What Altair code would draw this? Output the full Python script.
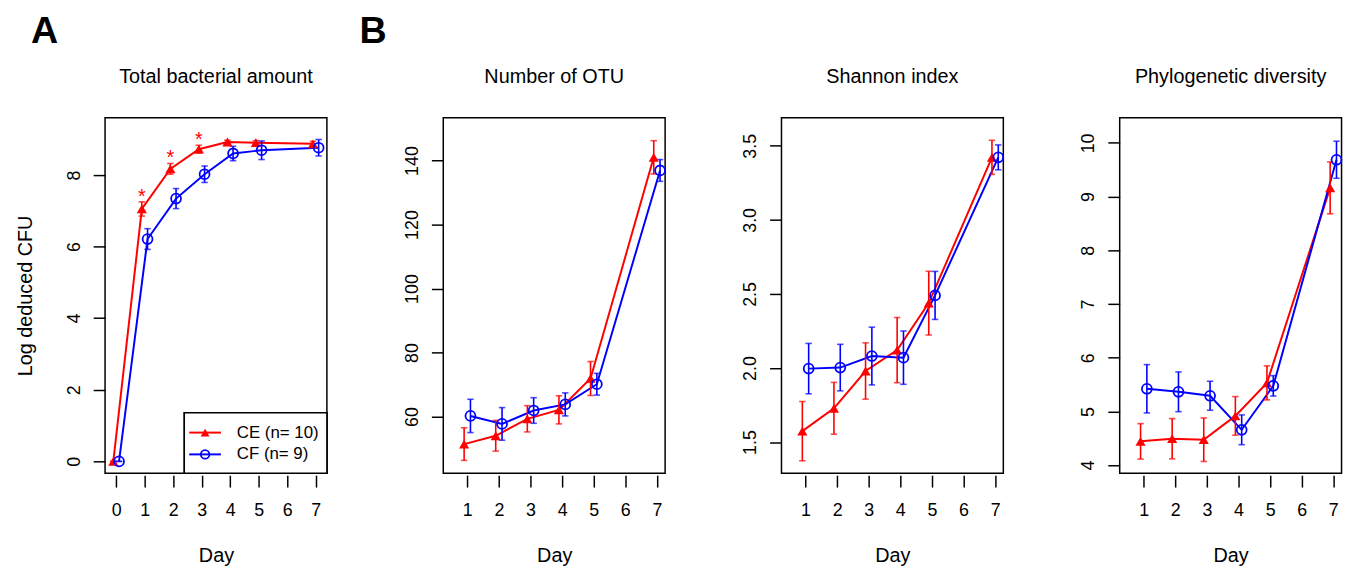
import altair as alt
import pandas as pd

FONT = "Liberation Sans"

groups = ["CE", "CF"]
group_colors = ["#FF0000", "#0000FF"]
legend_labels = ["CE (n= 10)", "CF (n= 9)"]
panel_titles = ["Total bacterial amount", "Number of OTU", "Shannon index", "Phylogenetic diversity"]
panel_letters = ["A", "B"]

# Panel A: total bacterial amount (log deduced CFU)
days_total = [0, 1, 2, 3, 4, 5, 7]
ce_total = [0.0, 7.05, 8.17, 8.72, 8.92, 8.90, 8.87]
ce_total_se = [0.0, 0.20, 0.15, 0.11, 0.05, 0.06, 0.07]
cf_total = [0.0, 6.21, 7.34, 8.02, 8.60, 8.69, 8.76]
cf_total_se = [0.0, 0.29, 0.28, 0.23, 0.20, 0.26, 0.23]
significant_days = [1, 2, 3]

# Panel B: diversity measures
days = [1, 2, 3, 4, 5, 7]
ce_otu = [51.4, 54.0, 59.3, 62.1, 71.9, 141.0]
ce_otu_se = [5.1, 4.8, 4.1, 4.4, 5.3, 5.2]
cf_otu = [60.2, 57.7, 61.9, 63.8, 70.1, 136.9]
cf_otu_se = [5.2, 5.1, 4.0, 3.6, 3.4, 3.4]

ce_shannon = [1.574, 1.728, 1.980, 2.121, 2.438, 3.422]
ce_shannon_se = [0.20, 0.175, 0.19, 0.22, 0.215, 0.115]
cf_shannon = [1.996, 2.003, 2.081, 2.070, 2.490, 3.422]
cf_shannon_se = [0.17, 0.157, 0.195, 0.18, 0.162, 0.084]

ce_pd = [4.443, 4.492, 4.474, 4.917, 5.532, 9.163]
ce_pd_se = [0.33, 0.375, 0.405, 0.36, 0.317, 0.483]
cf_pd = [5.422, 5.366, 5.292, 4.658, 5.477, 9.686]
cf_pd_se = [0.45, 0.37, 0.27, 0.277, 0.19, 0.345]


def make_df(day_list, ce, ce_se, cf, cf_se):
    rows = []
    for g, m, s in ((groups[0], ce, ce_se), (groups[1], cf, cf_se)):
        for d, v, e in zip(day_list, m, s):
            rows.append({"day": d, "group": g, "mean": v, "se": e})
    return pd.DataFrame(rows)


PLOT_W = 224
PLOT_H = 359
LABEL_SIZE = 18

color = alt.Color("group:N", scale=alt.Scale(domain=groups, range=group_colors), legend=None)


def text_mark(text, x_px, y_px, size, weight="normal", align="center"):
    return alt.Chart(pd.DataFrame({"t": [text]})).mark_text(
        fontSize=size, fontWeight=weight, font=FONT, align=align, baseline="middle",
        color="black").encode(x=alt.value(x_px), y=alt.value(y_px), text="t:N")


def panel(df, title, xdom, xvals, ydom, yvals, yfmt, ytitle=None, extra=None):
    base = alt.Chart(df).transform_calculate(
        x="datum.day + (datum.group == 'CE' ? -0.1 : 0.1)",
        lo="datum.mean - datum.se",
        hi="datum.mean + datum.se",
    )
    xenc = alt.X(
        "x:Q",
        scale=alt.Scale(domain=xdom, nice=False, zero=False),
        axis=alt.Axis(
            values=xvals, format="d", title="Day", labelFontSize=LABEL_SIZE, titleFontSize=20,
            titleFontWeight="normal", labelFont=FONT, titleFont=FONT,
            tickSize=12, tickWidth=1.5, tickColor="black", domain=False, grid=False,
            labelPadding=15, titlePadding=26, offset=2, labelColor="black",
            titleColor="black", labelFlush=False, labelOverlap=False,
        ),
    )

    def yenc(field):
        axis_kwargs = dict(
            values=yvals, format=yfmt, labelFontSize=LABEL_SIZE, titleFontSize=20,
            titleFontWeight="normal", labelFont=FONT, titleFont=FONT,
            tickSize=12, tickWidth=1.5, tickColor="black", domain=False, grid=False,
            labelAngle=270, labelAlign="center", labelBaseline="bottom",
            labelPadding=10, minExtent=40, maxExtent=40, titlePadding=30,
            labelColor="black", titleColor="black", labelFlush=False, labelOverlap=False,
        )
        return alt.Y(
            f"{field}:Q",
            scale=alt.Scale(domain=ydom, nice=False, zero=False),
            axis=alt.Axis(**axis_kwargs),
            title=ytitle,
        )

    line = base.mark_line(strokeWidth=2).encode(x=xenc, y=yenc("mean"), color=color)
    err = base.mark_rule(strokeWidth=1.6).encode(x=xenc, y=yenc("lo"), y2="hi:Q", color=color)
    cap_lo = base.mark_tick(orient="horizontal", size=6.5, thickness=1.6).encode(
        x=xenc, y=yenc("lo"), color=color)
    cap_hi = base.mark_tick(orient="horizontal", size=6.5, thickness=1.6).encode(
        x=xenc, y=yenc("hi"), color=color)
    ce_pts = base.transform_filter("datum.group == 'CE'").mark_point(
        shape="triangle-up", filled=True, size=105, opacity=1).encode(
        x=xenc, y=yenc("mean"), color=color)
    cf_pts = base.transform_filter("datum.group == 'CF'").mark_point(
        shape="circle", filled=False, size=100, strokeWidth=1.8, opacity=1).encode(
        x=xenc, y=yenc("mean"), color=color)
    ttl = text_mark(title, PLOT_W / 2, -41, 20)
    layers = [line, err, cap_lo, cap_hi, ce_pts, cf_pts, ttl]
    if extra:
        layers += extra(base, xenc, yenc)
    return alt.layer(*layers).properties(width=PLOT_W, height=PLOT_H)


legend_df = pd.DataFrame({"group": groups, "label": legend_labels})


def extra_A(base, xenc, yenc):
    stars = base.transform_filter("datum.group == 'CE'").transform_filter(
        alt.FieldOneOfPredicate(field="day", oneOf=significant_days)
    ).transform_calculate(star="'*'").mark_text(
        fontSize=20, font=FONT, color="#FF0000", baseline="alphabetic", dy=1
    ).encode(x=xenc, y=yenc("hi"), text="star:N")
    box = alt.Chart(legend_df).mark_rect(fill="white", stroke="black", strokeWidth=1.5).encode(
        x=alt.value(80), x2=alt.value(PLOT_W), y=alt.value(298), y2=alt.value(PLOT_H))
    items = []
    for i, (g, c) in enumerate(zip(groups, group_colors)):
        ypx = 318 + 22 * i
        sub = alt.Chart(legend_df).transform_filter(f"datum.group == '{g}'")
        items.append(sub.mark_rule(strokeWidth=2, color=c).encode(
            x=alt.value(85), x2=alt.value(117), y=alt.value(ypx)))
        if i == 0:
            items.append(sub.mark_point(shape="triangle-up", filled=True, size=80, color=c,
                                        opacity=1).encode(x=alt.value(101), y=alt.value(ypx)))
        else:
            items.append(sub.mark_point(shape="circle", filled=False, size=75, color=c,
                                        strokeWidth=1.8, opacity=1).encode(
                x=alt.value(101), y=alt.value(ypx)))
        items.append(sub.mark_text(fontSize=17, font=FONT, align="left", baseline="middle",
                                   color="black").encode(
            x=alt.value(133), y=alt.value(ypx), text="label:N"))
    return [stars, box] + items + [text_mark(panel_letters[0], -61, -86, 38, "bold")]


def extra_B(base, xenc, yenc):
    return [text_mark(panel_letters[1], -71, -86, 38, "bold")]


pA = panel(make_df(days_total, ce_total, ce_total_se, cf_total, cf_total_se),
           panel_titles[0], [-0.39, 7.39], [0, 1, 2, 3, 4, 5, 6, 7],
           [-0.33, 9.6], [0, 2, 4, 6, 8], "d", ytitle="Log deduced CFU", extra=extra_A)
pB1 = panel(make_df(days, ce_otu, ce_otu_se, cf_otu, cf_otu_se),
            panel_titles[1], [0.24, 7.26], [1, 2, 3, 4, 5, 6, 7],
            [42.3, 153.4], [60, 80, 100, 120, 140], "d", extra=extra_B)
pB2 = panel(make_df(days, ce_shannon, ce_shannon_se, cf_shannon, cf_shannon_se),
            panel_titles[2], [0.24, 7.26], [1, 2, 3, 4, 5, 6, 7],
            [1.29, 3.69], [1.5, 2.0, 2.5, 3.0, 3.5], ".1f")
pB3 = panel(make_df(days, ce_pd, ce_pd_se, cf_pd, cf_pd_se),
            panel_titles[3], [0.24, 7.26], [1, 2, 3, 4, 5, 6, 7],
            [3.85, 10.47], [4, 5, 6, 7, 8, 9, 10], "d")

chart = alt.hconcat(pA, pB1, pB2, pB3, spacing=117.5, bounds="flush").properties(
    padding={"left": 7, "top": 2, "right": 0, "bottom": 0}
).configure(font=FONT).configure_view(stroke="black", strokeWidth=1.5)

chart.save("out.html", embed_options={"renderer": "svg", "actions": False})
